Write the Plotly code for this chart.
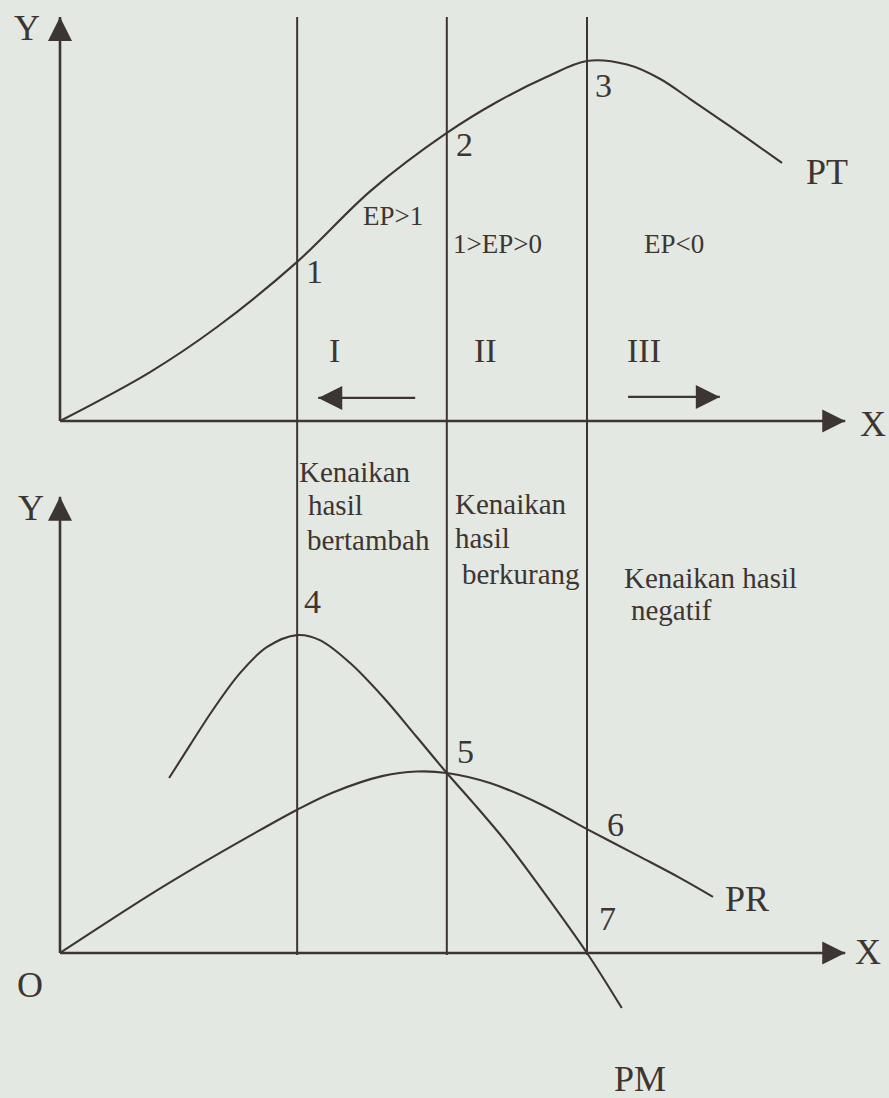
import plotly.graph_objects as go

FONT = "Liberation Serif"
INK = "#3d3532"
PAPER = "#e4e8e2"

# Input levels separating stages I, II and III of production
stage_bounds = [4.5, 7.34, 10.0]

# Total product (PT) against the variable input
pt_input = [0.0, 1.71, 2.98, 4.5, 5.9, 7.34, 8.29, 9.24, 10.0,
            10.76, 11.39, 11.95, 12.52, 13.09, 13.7]
pt_output = [0.0, 1.36, 2.61, 4.42, 6.4, 8.0, 8.86, 9.56, 10.0,
             9.9, 9.5, 8.95, 8.38, 7.8, 7.17]

# Marginal product (PM)
pm_input = [2.07, 2.47, 2.9, 3.42, 3.93, 4.5, 4.93, 5.5, 6.13, 6.77, 7.34,
            7.84, 8.48, 9.11, 10.0, 10.66]
pm_output = [4.86, 5.78, 6.75, 7.78, 8.5, 8.83, 8.69, 8.06, 7.11, 6.0, 5.0,
             4.17, 3.06, 1.83, 0.0, -1.53]

# Average product (PR)
pr_input = [0.0, 1.71, 2.66, 3.61, 4.5, 5.18, 6.13, 6.77, 7.34, 8.16, 9.11,
            10.0, 11.01, 11.77, 12.39]
pr_output = [0.0, 1.62, 2.46, 3.26, 3.98, 4.46, 4.92, 5.04, 5.0, 4.72, 4.14,
             3.44, 2.67, 2.08, 1.56]

# Direction arrows drawn inside stages I and III of the upper panel
stage1_arrow_x = [6.74, 4.9]
stage1_arrow_y = [0.64, 0.64]
stage3_arrow_x = [10.78, 12.52]
stage3_arrow_y = [0.67, 0.67]

# Extent of the drawn axes (x end, y end) for upper and lower panels
upper_axis_end = [14.9, 11.22]
lower_axis_end = [14.9, 12.67]

fig = go.Figure()


def curve(x, y, xa, ya):
    fig.add_trace(go.Scatter(
        x=x, y=y, xaxis=xa, yaxis=ya, mode="lines",
        line=dict(color=INK, width=2.1, shape="spline", smoothing=1.0),
        hoverinfo="skip"))


def arrow(x, y, xa, ya, symbol, size, width):
    fig.add_trace(go.Scatter(
        x=x, y=y, xaxis=xa, yaxis=ya, mode="lines",
        line=dict(color=INK, width=width), hoverinfo="skip"))
    fig.add_trace(go.Scatter(
        x=[x[-1]], y=[y[-1]], xaxis=xa, yaxis=ya, mode="markers",
        marker=dict(symbol=symbol, size=size, color=INK, line=dict(width=0)),
        hoverinfo="skip"))


# Axes with arrowheads
for (xa, ya), (xe, ye) in [(("x", "y"), upper_axis_end), (("x2", "y2"), lower_axis_end)]:
    arrow([0, xe], [0, 0], xa, ya, "arrow-right", 23, 2.6)
    arrow([0, 0], [0, ye], xa, ya, "arrow-up", 24, 2.6)

# Curves
curve(pt_input, pt_output, "x", "y")
curve(pm_input, pm_output, "x2", "y2")
curve(pr_input, pr_output, "x2", "y2")

# Stage direction arrows
arrow(stage1_arrow_x, stage1_arrow_y, "x", "y", "arrow-left", 24, 2.2)
arrow(stage3_arrow_x, stage3_arrow_y, "x", "y", "arrow-right", 24, 2.2)

# Stage boundaries running through both panels
shapes = []
for b in stage_bounds:
    shapes.append(dict(type="line", xref="x", yref="paper", x0=b, x1=b,
                       y0=1 - 955 / 1098, y1=1 - 17 / 1098,
                       line=dict(color=INK, width=2), layer="below"))

annotations = []


def label(text, x, y, panel, size, xanchor="center"):
    xr, yr = ("x", "y") if panel == 1 else ("x2", "y2")
    annotations.append(dict(
        text=text, x=x, y=y, xref=xr, yref=yr, showarrow=False,
        xanchor=xanchor, yanchor="middle",
        font=dict(family=FONT, size=size, color=INK)))


# Upper panel text
label("Y", -0.63, 10.92, 1, 36)
label("O", -0.61, -0.53, 1, 36)
label("X", 15.43, -0.08, 1, 36)
label("PT", 14.55, 6.92, 1, 36)
label("1", 4.82, 4.14, 1, 34)
label("2", 7.67, 7.67, 1, 34)
label("3", 10.32, 9.31, 1, 34)
label("EP>1", 6.32, 5.69, 1, 27)
label("1>EP>0", 8.31, 4.92, 1, 27)
label("EP<0", 11.65, 4.92, 1, 27)
label("I", 5.2, 1.97, 1, 34)
label("II", 8.07, 1.97, 1, 34)
label("III", 11.08, 1.97, 1, 34)

# Lower panel text
label("Y", -0.55, 12.36, 2, 36)
label("O", -0.57, -0.89, 2, 36)
label("X", 15.33, 0.03, 2, 36)
label("Kenaikan", 4.5, 13.36, 2, 29, "left")
label("hasil", 4.67, 12.44, 2, 29, "left")
label("bertambah", 4.65, 11.47, 2, 29, "left")
label("Kenaikan", 7.46, 12.47, 2, 29, "left")
label("hasil", 7.46, 11.53, 2, 29, "left")
label("berkurang", 7.59, 10.53, 2, 29, "left")
label("Kenaikan hasil", 10.66, 10.42, 2, 29, "left")
label("negatif", 10.8, 9.53, 2, 29, "left")
label("4", 4.8, 9.75, 2, 34)
label("5", 7.69, 5.61, 2, 34)
label("6", 10.55, 3.56, 2, 34)
label("7", 10.38, 0.97, 2, 34)
label("PR", 13.04, 1.5, 2, 36)
label("PM", 11.01, -3.5, 2, 36)

xrange = [-1.1385, 15.7306]
fig.update_layout(
    width=889, height=1098, autosize=False,
    margin=dict(l=0, r=0, t=0, b=0, pad=0),
    paper_bgcolor=PAPER, plot_bgcolor=PAPER,
    showlegend=False,
    shapes=shapes, annotations=annotations,
    xaxis=dict(domain=[0, 1], range=xrange, visible=False, anchor="y"),
    yaxis=dict(domain=[0.6, 1], range=[-0.5056, 11.694], visible=False, anchor="x"),
    xaxis2=dict(domain=[0, 1], range=xrange, visible=False, anchor="y2"),
    yaxis2=dict(domain=[0, 0.6], range=[-4.028, 14.272], visible=False, anchor="x2"),
)

fig.write_html("out.html", config={"displayModeBar": False})
